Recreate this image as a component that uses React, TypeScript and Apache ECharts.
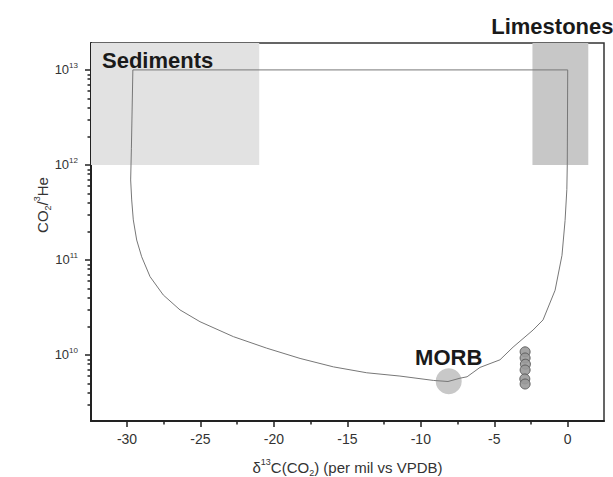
import React, { useEffect, useRef } from "react";
import * as echarts from "echarts";

// Axis ranges (delta13C in per mil, CO2/3He ratio)
const deltaRange = [-32.45, 2.47];
const ratioRange = [2.02e9, 1.92e13];

// Tick values
const xMajorTicks = [-30, -25, -20, -15, -10, -5, 0];
const xMinorTicks = [-27.5, -22.5, -17.5, -12.5, -7.5, -2.5];
const yMajorExponents = [10, 11, 12, 13];
const yMinorMultipliers = [2, 3, 4, 5, 6, 7, 8, 9];

// Mixing envelope curve
const curveDelta = [
  -29.6, 0.0, -0.03, -0.06, -0.18, -0.39, -0.86, -1.68, -2.36, -3.72, -4.61, -5.97,
  -6.85, -7.33, -8.15, -9.15, -11.42, -13.68, -15.95, -18.22, -20.49, -22.76,
  -25.03, -26.39, -27.53, -28.43, -29.0, -29.34, -29.57, -29.68, -29.75, -29.7, -29.6,
];
const curveRatio = [
  1e13, 1e13, 1e12, 5.5e11, 2.6e11, 1.12e11, 4.8e10, 2.34e10, 1.83e10, 1.21e10, 8.9e9, 7.4e9,
  5.9e9, 5.7e9, 5.26e9, 5.4e9, 6.0e9, 6.5e9, 7.5e9, 9.2e9, 1.18e10, 1.56e10,
  2.24e10, 2.98e10, 4.28e10, 6.67e10, 1.08e11, 1.62e11, 2.64e11, 4.28e11, 6.95e11, 1.5e12, 1e13,
];

// MORB end-member
const morbDelta = [-8.1];
const morbRatio = [5.3e9];

// Samples
const sampleDelta = [-2.9, -2.9, -2.88, -2.9, -2.92, -2.9];
const sampleRatio = [1.08e10, 9.3e9, 8.0e9, 6.95e9, 5.6e9, 4.95e9];

// End-member boxes
const sedimentsDelta = [-32.45, -21];
const sedimentsRatio = [1e12, 1.92e13];
const limestonesDelta = [-2.4, 1.4];
const limestonesRatio = [1e12, 1.92e13];

const FONT = "'Liberation Sans', Arial, Helvetica, sans-serif";
const lg = (v: number) => Math.log10(v);

export default function App() {
  const ref = useRef<HTMLDivElement>(null);

  useEffect(() => {
    if (!ref.current) return;
    const chart = echarts.init(ref.current, undefined, { renderer: "svg" });

    const yMinorTicks: number[] = [];
    for (let e = 9; e <= 13; e++) {
      for (const m of yMinorMultipliers) {
        const v = lg(m * Math.pow(10, e));
        if (v > lg(ratioRange[0]) + 0.005 && v < lg(ratioRange[1])) yMinorTicks.push(v);
      }
    }

    const yMin = lg(ratioRange[0]);
    const yMax = lg(ratioRange[1]);

    const boldLabel = {
      fontFamily: FONT,
      fontWeight: "bold" as const,
      fontSize: 22,
      color: "#1a1a1a",
    };

    const option: any = {
      animation: false,
      backgroundColor: "#ffffff",
      grid: {
        left: 91,
        right: 9,
        top: 43,
        bottom: 56,
        show: true,
        borderColor: "#333",
        borderWidth: 1.5,
        backgroundColor: "transparent",
        containLabel: false,
        outerBoundsMode: "none",
      },
      xAxis: [
        {
          type: "value",
          min: deltaRange[0],
          max: deltaRange[1],
          position: "bottom",
          splitLine: { show: false },
          axisLine: { show: true, onZero: false, lineStyle: { color: "#222", width: 2 } },
          axisTick: { show: true, customValues: xMajorTicks, length: 6, lineStyle: { color: "#222", width: 1.5 } },
          axisLabel: {
            customValues: xMajorTicks,
            fontFamily: FONT,
            fontSize: 14,
            color: "#333",
            margin: 11,
          },
          name: "{a|δ}{sup|13}{a|C(CO}{sub|2}{a|) (per mil vs VPDB)}",
          nameLocation: "middle",
          nameGap: 36,
          nameTextStyle: {
            rich: {
              a: { fontFamily: FONT, fontSize: 15, color: "#333", lineHeight: 20 },
              sup: { fontFamily: FONT, fontSize: 9, color: "#333", verticalAlign: "top", lineHeight: 12 },
              sub: { fontFamily: FONT, fontSize: 9, color: "#333", verticalAlign: "bottom", lineHeight: 12 },
            },
          },
        },
        {
          type: "value",
          min: deltaRange[0],
          max: deltaRange[1],
          position: "bottom",
          splitLine: { show: false },
          axisLine: { show: false, onZero: false },
          axisTick: { show: true, customValues: xMinorTicks, length: 3.5, lineStyle: { color: "#222", width: 1.5 } },
          axisLabel: { show: false },
        },
      ],
      yAxis: [
        {
          type: "value",
          min: yMin,
          max: yMax,
          position: "left",
          splitLine: { show: false },
          axisLine: { show: true, onZero: false, lineStyle: { color: "#222", width: 2 } },
          axisTick: { show: true, customValues: yMajorExponents, length: 6, lineStyle: { color: "#222", width: 1.5 } },
          axisLabel: {
            customValues: yMajorExponents,
            margin: 13,
            formatter: (v: number) => `{b|10}{s|${Math.round(v)}}`,
            rich: {
              b: { fontFamily: FONT, fontSize: 13, color: "#333", lineHeight: 16 },
              s: { fontFamily: FONT, fontSize: 8, color: "#333", verticalAlign: "top", lineHeight: 10 },
            },
          },
        },
        {
          type: "value",
          min: yMin,
          max: yMax,
          position: "left",
          splitLine: { show: false },
          axisLine: { show: false, onZero: false },
          axisTick: { show: true, customValues: yMinorTicks, length: 3.5, lineStyle: { color: "#222", width: 1.5 } },
          axisLabel: { show: false },
        },
      ],
      graphic: [
        {
          type: "text",
          x: 42,
          y: 205,
          rotation: Math.PI / 2,
          style: {
            text: "{a|CO}{sub|2}{a|/}{sup|3}{a|He}",
            align: "center",
            verticalAlign: "middle",
            rich: {
              a: { fontFamily: FONT, fontSize: 15, fill: "#333", lineHeight: 20 },
              sub: { fontFamily: FONT, fontSize: 9, fill: "#333", verticalAlign: "bottom", lineHeight: 12 },
              sup: { fontFamily: FONT, fontSize: 9, fill: "#333", verticalAlign: "top", lineHeight: 12 },
            },
          },
        },
      ],
      series: [
        {
          name: "boxes",
          type: "line",
          xAxisIndex: 0,
          yAxisIndex: 0,
          data: [],
          silent: true,
          markArea: {
            silent: true,
            data: [
              [
                {
                  name: "Sediments",
                  coord: [sedimentsDelta[0], lg(sedimentsRatio[1])],
                  itemStyle: { color: "#e2e2e2" },
                  label: {
                    show: true,
                    position: "insideTopLeft",
                    distance: 0,
                    offset: [11, 6],
                    ...boldLabel,
                  },
                },
                { coord: [sedimentsDelta[1], lg(sedimentsRatio[0])] },
              ],
              [
                {
                  name: "Limestones",
                  coord: [limestonesDelta[0], lg(limestonesRatio[1])],
                  itemStyle: { color: "#c7c7c7" },
                  label: {
                    show: true,
                    position: "top",
                    distance: 6,
                    offset: [-8, 0],
                    ...boldLabel,
                  },
                },
                { coord: [limestonesDelta[1], lg(limestonesRatio[0])] },
              ],
            ],
          },
        },
        {
          name: "mixing",
          type: "line",
          xAxisIndex: 0,
          yAxisIndex: 0,
          showSymbol: false,
          symbol: "none",
          smooth: false,
          lineStyle: { color: "#777", width: 1 },
          data: curveDelta.map((d, i) => [d, lg(curveRatio[i])]),
          z: 3,
        },
        {
          name: "MORB",
          type: "scatter",
          xAxisIndex: 0,
          yAxisIndex: 0,
          symbolSize: 26,
          itemStyle: { color: "#c8c8c8", opacity: 1 },
          label: {
            show: true,
            position: "top",
            distance: 0,
            formatter: "MORB",
            ...boldLabel,
          },
          data: morbDelta.map((d, i) => [d, lg(morbRatio[i])]),
          z: 2,
        },
        {
          name: "samples",
          type: "scatter",
          xAxisIndex: 0,
          yAxisIndex: 0,
          symbolSize: 10,
          itemStyle: { color: "#9a9a9a", borderColor: "#555", borderWidth: 1, opacity: 0.9 },
          data: sampleDelta.map((d, i) => [d, lg(sampleRatio[i])]),
          z: 4,
        },
      ],
    };

    chart.setOption(option);
    return () => chart.dispose();
  }, []);

  return <div ref={ref} style={{ width: 613, height: 477, position: "absolute", left: 0, top: 0 }} />;
}
